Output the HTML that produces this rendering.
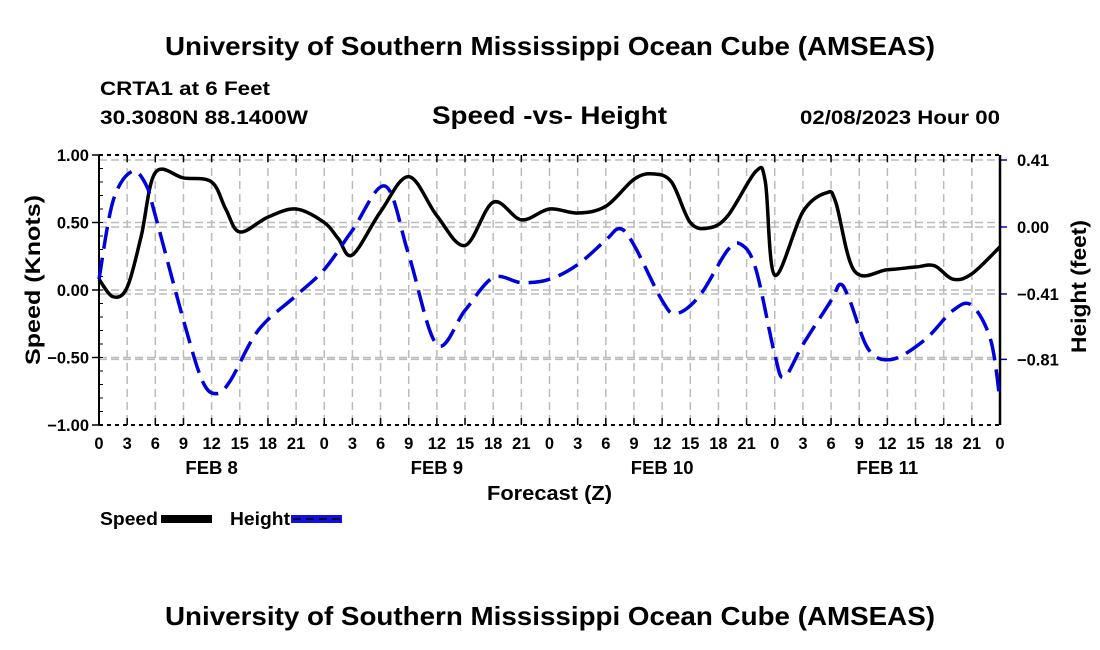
<!DOCTYPE html>
<html><head><meta charset="utf-8"><style>
body{margin:0;background:#fff;}
svg{display:block;font-family:"Liberation Sans",sans-serif;font-weight:bold;}
</style></head><body>
<svg id="c" width="1100" height="650" viewBox="0 0 1100 650">
<text x="165" y="55" font-size="26" textLength="770" lengthAdjust="spacingAndGlyphs">University of Southern Mississippi Ocean Cube (AMSEAS)</text>
<text x="100" y="95" font-size="19" textLength="170" lengthAdjust="spacingAndGlyphs">CRTA1 at 6 Feet</text>
<text x="100" y="124" font-size="19" textLength="208" lengthAdjust="spacingAndGlyphs">30.3080N  88.1400W</text>
<text x="432" y="124" font-size="25" textLength="235" lengthAdjust="spacingAndGlyphs">Speed -vs- Height</text>
<text x="800" y="124" font-size="19" textLength="200" lengthAdjust="spacingAndGlyphs">02/08/2023 Hour 00</text>
<g id="grid"></g>
<g id="axes"></g>
<path id="speed" fill="none" stroke="#000" stroke-width="3.5"/>
<path id="height" fill="none" stroke="#0000dd" stroke-width="3.5" stroke-dasharray="22,9"/>
<text transform="translate(40,365) rotate(-90)" font-size="21" textLength="170" lengthAdjust="spacingAndGlyphs">Speed (Knots)</text>
<text transform="translate(1086,353) rotate(-90)" font-size="21" textLength="133" lengthAdjust="spacingAndGlyphs">Height (feet)</text>
<text x="487" y="500" font-size="20" textLength="125" lengthAdjust="spacingAndGlyphs">Forecast (Z)</text>
<g>
<text x="100" y="525" font-size="18" textLength="58" lengthAdjust="spacingAndGlyphs">Speed</text>
<rect x="161" y="515" width="51" height="8" fill="#000"/>
<text x="230" y="525" font-size="18" textLength="60" lengthAdjust="spacingAndGlyphs">Height</text>
<rect x="291" y="515" width="51" height="8" fill="#1010e0"/>
<line x1="293" y1="519" x2="341" y2="519" stroke="#000" stroke-width="1.5" stroke-dasharray="8,5"/>
</g>
<text x="165" y="625" font-size="26" textLength="770" lengthAdjust="spacingAndGlyphs">University of Southern Mississippi Ocean Cube (AMSEAS)</text>
</svg>
<script>
const speedHours=[0,1.5,3,4.5,6,9,12,13.5,15,18,21,24,25.5,27,30,33,36,39,42,45,48,51,54,57,59,61,63,65,67,70,71,72,75,77.5,78.5,80.5,84,87,89,91,93,96];
const speedValues=[0.08,-0.05,0.02,0.4,0.87,0.83,0.80,0.6,0.43,0.54,0.60,0.50,0.38,0.26,0.58,0.84,0.55,0.33,0.65,0.52,0.60,0.57,0.62,0.82,0.86,0.80,0.50,0.46,0.55,0.88,0.80,0.11,0.58,0.72,0.65,0.14,0.15,0.17,0.18,0.08,0.12,0.32];
const heightHours=[0,1.5,3.5,5,6,9,11,12.5,14,17,21,24,27,30.5,33,36,39,42,45,48,51,54,55.5,57,60,61.5,64,67,68.5,70,72,73,75,78,79,80,82,84.5,88,91,93,95,96];
const heightValues=[-0.32,0.16,0.34,0.26,0.07,-0.57,-0.94,-1.02,-0.94,-0.63,-0.42,-0.26,-0.02,0.25,-0.17,-0.72,-0.51,-0.31,-0.34,-0.32,-0.23,-0.08,-0.01,-0.11,-0.45,-0.53,-0.42,-0.14,-0.11,-0.26,-0.78,-0.92,-0.72,-0.45,-0.35,-0.45,-0.75,-0.81,-0.69,-0.51,-0.48,-0.69,-1.06];
const hourTicks=[0,3,6,9,12,15,18,21,0,3,6,9,12,15,18,21,0,3,6,9,12,15,18,21,0,3,6,9,12,15,18,21,0];
const dayLabels=["FEB 8","FEB 9","FEB 10","FEB 11"];
const speedTicks=[1.00,0.50,0.00,-0.50,-1.00];
const heightTicks=[0.41,0.00,-0.41,-0.81];
const L=99,R=1000,T=155,B=425;
const x=h=>L+h*(R-L)/96;
const yS=v=>290-v*135;
const yH=v=>227-v*163.4;
const NS="http://www.w3.org/2000/svg";
function mk(tag,attrs,parent,txt){const e=document.createElementNS(NS,tag);for(const k in attrs)e.setAttribute(k,attrs[k]);if(txt!==undefined)e.textContent=txt;parent.appendChild(e);return e;}
const grid=document.getElementById('grid'),axes=document.getElementById('axes');
hourTicks.forEach((t,i)=>{const X=x(i*3);
 if(i>0&&i<32){const g=mk('line',{x1:X,x2:X,y1:T,y2:B,stroke:'#bbb','stroke-width':1.5,'stroke-dasharray':'8,5'},grid);
 
 }
 mk('line',{x1:X,x2:X,y1:B,y2:B-7,stroke:'#000','stroke-width':1.5},axes);
 mk('line',{x1:X,x2:X,y1:T,y2:T+7,stroke:'#000','stroke-width':1.5},axes);
 const tl=mk('text',{x:X,y:449,'text-anchor':'middle','font-size':16.5},axes,t);
 
 
});
dayLabels.forEach((d,i)=>{const tl=mk('text',{x:x(12+24*i),y:474,'text-anchor':'middle','font-size':18.5},axes,d);
 
 });
speedTicks.forEach(v=>{const Y=yS(v);
 if(v<1&&v>-1){const g=mk('line',{x1:L,x2:R,y1:Y,y2:Y,stroke:'#bbb','stroke-width':1.5,'stroke-dasharray':'8,4'},grid);
 
 }
 mk('line',{x1:L-7,x2:L,y1:Y,y2:Y,stroke:'#000','stroke-width':1.5},axes);
 const tl=mk('text',{x:L-10,y:Y+6,'text-anchor':'end','font-size':16.5},axes,v.toFixed(2).replace('-','\u2212'));
 
 });
for(let v=-1;v<=1.001;v+=0.1){mk('line',{x1:L,x2:L+4,y1:yS(v),y2:yS(v),stroke:'#000','stroke-width':1},axes);}
heightTicks.forEach(v=>{const Y=yH(v);
 const g=mk('line',{x1:L,x2:R,y1:Y,y2:Y,stroke:'#bbb','stroke-width':1.5,'stroke-dasharray':'8,4'},grid);
 
 
 mk('line',{x1:R,x2:R+7,y1:Y,y2:Y,stroke:'#00c','stroke-width':1.5},axes);
 const tl=mk('text',{x:1017,y:Y+6,'font-size':16.5},axes,v.toFixed(2).replace('-','\u2212'));
 
 });
mk('line',{x1:L,x2:R,y1:T,y2:T,stroke:'#000','stroke-width':2,'stroke-dasharray':'4,4'},axes);
mk('line',{x1:L,x2:R,y1:B,y2:B,stroke:'#000','stroke-width':2,'stroke-dasharray':'4,4'},axes);
mk('line',{x1:L,x2:L,y1:T,y2:B,stroke:'#000','stroke-width':2},axes);
mk('line',{x1:R,x2:R,y1:T,y2:B,stroke:'#000','stroke-width':2.5},axes);
function spline(xs,ys){const p=xs.map((h,i)=>[x(h),ys[i]]);let d='M'+p[0][0]+','+p[0][1];
 for(let i=0;i<p.length-1;i++){const p0=p[i-1]||p[i],p1=p[i],p2=p[i+1],p3=p[i+2]||p2;
 const c1=[p1[0]+(p2[0]-p0[0])/6,p1[1]+(p2[1]-p0[1])/6],c2=[p2[0]-(p3[0]-p1[0])/6,p2[1]-(p3[1]-p1[1])/6];
 d+=' C'+c1+' '+c2+' '+p2;}return d;}
document.getElementById('speed').setAttribute('d',spline(speedHours,speedValues.map(yS)));
document.getElementById('height').setAttribute('d',spline(heightHours,heightValues.map(yH)));
</script>
</body></html>
